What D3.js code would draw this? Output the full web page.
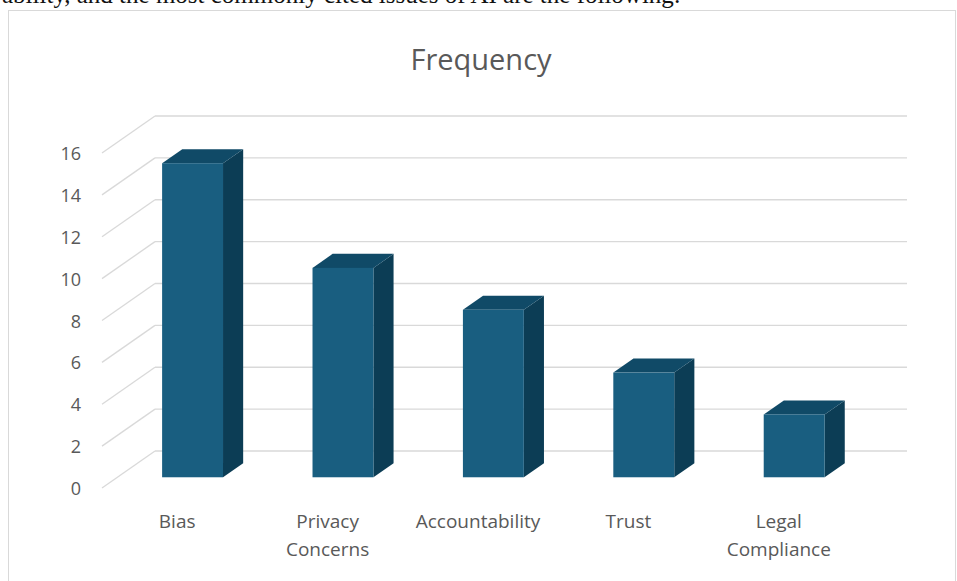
<!DOCTYPE html>
<html>
<head>
<meta charset="utf-8">
<script src="https://cdn.jsdelivr.net/npm/d3@7"></script>
<style>
  body { margin: 0; background: #ffffff; }
  svg { display: block; }
  .tick-label { font-family: "Open Sans", sans-serif; font-size: 18px; fill: #595959; }
  .cat-label { font-family: "Open Sans", sans-serif; font-size: 19px; fill: #595959; }
  .title { font-family: "Open Sans", sans-serif; font-size: 29px; fill: #595959; }
</style>
</head>
<body>
<script>
// chart data
var categories = ["Bias", "Privacy Concerns", "Accountability", "Trust", "Legal Compliance"];
var labelLines = [["Bias"], ["Privacy", "Concerns"], ["Accountability"], ["Trust"], ["Legal", "Compliance"]];
var frequency = [15, 10, 8, 5, 3];
var yTicks = [0, 2, 4, 6, 8, 10, 12, 14, 16];

window.onload = function() {
    var width = 957, height = 581;

    var svg = d3.select("body")
        .append("svg")
        .attr("width", width)
        .attr("height", height);

    // bit of the document text above the chart, cut off by the page edge
    svg.append("text")
        .attr("x", 2)
        .attr("y", 3)
        .style("font-family", "'Liberation Serif', serif")
        .style("font-size", "25px")
        .style("fill", "#111")
        .text("ability, and the most commonly cited issues of AI are the following:");

    // chart frame
    svg.append("rect")
        .attr("x", 8.5)
        .attr("y", 10.5)
        .attr("width", 947)
        .attr("height", 600)
        .style("fill", "#ffffff")
        .style("stroke", "#d9d9d9");

    // title
    svg.append("text")
        .attr("class", "title")
        .attr("x", 481)
        .attr("y", 70)
        .attr("text-anchor", "middle")
        .text("Frequency");

    // depth of the 3d box (full depth offset)
    var depthX = 53, depthY = -37;

    var x = d3.scaleBand()
        .domain(categories)
        .range([102, 854])
        .paddingInner(0.595)
        .paddingOuter(0.2975);

    // y for the front plane
    var y = d3.scaleLinear()
        .domain([0, 16])
        .range([488, 153]);

    // gridlines on back wall
    svg.selectAll(".grid")
        .data(yTicks)
        .enter()
        .append("line")
        .attr("class", "grid")
        .attr("x1", 102 + depthX)
        .attr("x2", 854 + depthX)
        .attr("y1", function(d) { return y(d) + depthY; })
        .attr("y2", function(d) { return y(d) + depthY; })
        .style("stroke", "#d9d9d9")
        .style("stroke-width", 1.3);

    // diagonal lines on the floor / side wall
    svg.selectAll(".diag")
        .data(yTicks)
        .enter()
        .append("line")
        .attr("class", "diag")
        .attr("x1", 102)
        .attr("x2", 102 + depthX)
        .attr("y1", function(d) { return y(d); })
        .attr("y2", function(d) { return y(d) + depthY; })
        .style("stroke", "#d9d9d9")
        .style("stroke-width", 1.3);

    // tick labels
    svg.selectAll(".tick-label")
        .data(yTicks)
        .enter()
        .append("text")
        .attr("class", "tick-label")
        .attr("x", 81)
        .attr("y", function(d) { return y(d) + 7; })
        .attr("text-anchor", "end")
        .text(function(d) { return d; });

    // bars: front face at depth d0, back face at d1
    var d0 = 0.29, d1 = 0.67;
    var bw = x.bandwidth();

    var bars = svg.selectAll(".bar")
        .data(frequency)
        .enter()
        .append("g")
        .attr("class", "bar");

    // side face
    bars.append("polygon")
        .attr("points", function(d, i) {
            var xr = x(categories[i]) + bw;
            var top = y(d), bot = y(0);
            return [
                [xr + d0 * depthX, top + d0 * depthY],
                [xr + d1 * depthX, top + d1 * depthY],
                [xr + d1 * depthX, bot + d1 * depthY],
                [xr + d0 * depthX, bot + d0 * depthY]
            ].join(" ");
        })
        .style("fill", "#0c3d55");

    // top face
    bars.append("polygon")
        .attr("points", function(d, i) {
            var xl = x(categories[i]), xr = xl + bw;
            var top = y(d);
            return [
                [xl + d0 * depthX, top + d0 * depthY],
                [xl + d1 * depthX, top + d1 * depthY],
                [xr + d1 * depthX, top + d1 * depthY],
                [xr + d0 * depthX, top + d0 * depthY]
            ].join(" ");
        })
        .style("fill", "#104a67");

    // front face
    bars.append("rect")
        .attr("x", function(d, i) { return x(categories[i]) + d0 * depthX; })
        .attr("y", function(d) { return y(d) + d0 * depthY; })
        .attr("width", bw)
        .attr("height", function(d) { return y(0) - y(d); })
        .style("fill", "#195e80");

    // category labels
    var labels = svg.selectAll(".cat-label")
        .data(categories)
        .enter()
        .append("text")
        .attr("class", "cat-label")
        .attr("text-anchor", "middle")
        .attr("y", 528);

    labels.selectAll("tspan")
        .data(function(d, i) {
            return labelLines[i].map(function(t) { return { text: t, cat: d }; });
        })
        .enter()
        .append("tspan")
        .attr("x", function(d) { return x(d.cat) + x.bandwidth() / 2; })
        .attr("dy", function(d, j) { return j === 0 ? 0 : 28; })
        .text(function(d) { return d.text; });
};
</script>
</body>
</html>
